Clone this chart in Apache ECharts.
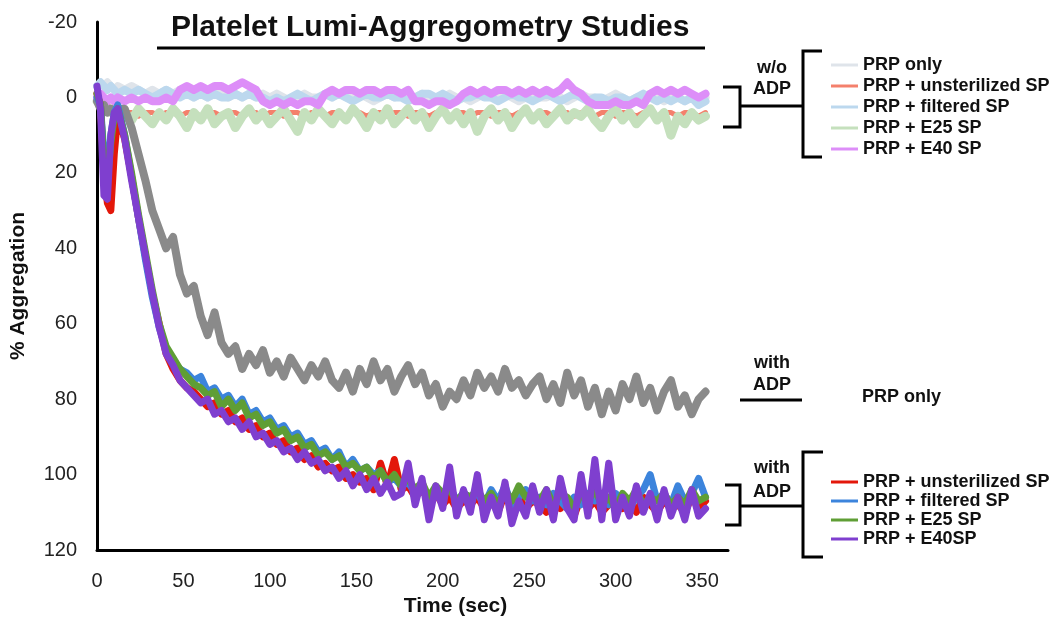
<!DOCTYPE html>
<html>
<head>
<meta charset="utf-8">
<script src="https://cdn.jsdelivr.net/npm/echarts@6/dist/echarts.min.js"></script>
<style>
  html, body { margin: 0; padding: 0; background: #fff; }
  #chart { width: 1053px; height: 626px; }
</style>
</head>
<body>
<div id="chart"></div>
<script>
  // time (sec)
  const times = [0, 2, 4, 6, 8, 10, 12,
    16, 20, 24, 28, 32, 36, 40, 44, 48, 52,
    56, 60, 64, 68, 72, 76, 80, 84, 88, 92,
    96, 100, 104, 108, 112, 116, 120, 124, 128, 132,
    136, 140, 144, 148, 152, 156, 160, 164, 168, 172,
    176, 180, 184, 188, 192, 196, 200, 204, 208, 212,
    216, 220, 224, 228, 232, 236, 240, 244, 248, 252,
    256, 260, 264, 268, 272, 276, 280, 284, 288, 292,
    296, 300, 304, 308, 312, 316, 320, 324, 328, 332,
    336, 340, 344, 348, 352];

  // w/o ADP
  const noPrp = [-3, -4, -3, -4, -3, -2, -3,
    -2, -3, -2, -1, -2, -1, -2, -1, -2, -1,
    0, -1, 0, -1, -1, 0, -1, 0, -1, 0,
    -1, 0, -1, 0, 1, 0, -1, 0, 0, -1,
    0, -1, 0, 0, -1, 0, 1, 0, -1, 0,
    -1, 0, 0, -1, 0, 1, 0, -1, 0, 0,
    1, 0, -1, 0, 0, -1, 0, 1, 0, -1,
    0, 0, -1, 0, 1, 0, -1, 0, 0, 1,
    0, -1, 0, 1, 0, 0, -1, 0, 1, 0,
    0, 1, 0, 1, 0];
  const noUnster = [0, 1, 2, 2, 3, 3, 4,
    4, 4, 5, 4, 4, 5, 4, 4, 5, 4,
    4, 5, 4, 4, 5, 4, 4, 5, 4, 4,
    5, 4, 4, 5, 4, 4, 5, 4, 4, 5,
    4, 4, 5, 4, 4, 5, 4, 4, 5, 4,
    4, 5, 4, 4, 5, 4, 4, 5, 4, 4,
    5, 4, 4, 5, 4, 4, 5, 4, 4, 5,
    4, 4, 5, 4, 4, 5, 4, 4, 5, 4,
    4, 5, 4, 4, 5, 4, 4, 5, 4, 4,
    5, 4, 4, 5, 4];
  const noFilt = [-3, -4, -3, -2, -3, -2, -1,
    -2, -1, -2, -1, 0, -1, -2, -1, 0, -1,
    0, -1, 0, -1, 0, 0, -1, 0, -1, 0,
    0, 1, 0, 1, 0, -1, 0, 1, 0, -1,
    0, -1, 0, 1, 0, -1, 0, 0, -1, 0,
    0, 1, 0, -1, -1, 0, -1, 0, 1, 0,
    0, -1, 0, 0, 1, 0, -1, 0, 0, 1,
    0, -1, 0, 1, 0, -1, 0, 1, 0, 0,
    1, 0, 0, 1, 0, -1, 0, 1, 0, 1,
    0, 1, 0, 2, 1];
  const noE25 = [1, 2, 3, 3, 4, 3, 5,
    4, 6, 3, 5, 7, 4, 6, 3, 5, 8,
    4, 6, 3, 7, 5, 4, 8, 5, 3, 6,
    4, 7, 5, 3, 6, 9, 4, 6, 3, 5,
    7, 4, 6, 3, 5, 8, 4, 6, 3, 7,
    5, 3, 6, 4, 8, 5, 3, 6, 4, 7,
    4, 9, 5, 3, 6, 4, 8, 5, 3, 6,
    4, 7, 5, 3, 6, 4, 5, 3, 6, 8,
    5, 3, 6, 4, 7, 5, 3, 6, 4, 10,
    5, 7, 4, 6, 5];
  const noE40 = [0, -1, 0, 1, 0, 1, 0,
    1, 0, 1, 0, 1, 1, 0, 1, -2, -3,
    -2, -3, -2, -3, -3, -2, -3, -4, -3, -2,
    1, 2, 1, 2, 1, 2, 1, 1, 2, -1,
    -2, -1, -2, -2, -1, -2, -2, -1, -2, -2,
    -1, -2, 1, 1, 2, 1, 1, 2, 1, -1,
    -2, -1, -2, -1, -2, -2, -1, -2, -1, -2,
    -1, -2, -1, -2, -4, -2, -1, 1, 2, 2,
    2, 1, 2, 2, 1, 2, -1, -2, -1, -2,
    -1, -2, -1, 0, -1];

  // with ADP
  const adpPrp = [1, 3, 2, 4, 3, 4, 3,
    3, 8, 15, 22, 30, 35, 40, 37, 47, 52,
    50, 58, 63, 57, 65, 68, 66, 72, 68, 71,
    67, 73, 70, 74, 69, 72, 75, 71, 74, 70,
    75, 77, 73, 78, 72, 76, 70, 75, 72, 78,
    74, 71, 76, 73, 79, 76, 82, 78, 80, 75,
    79, 73, 77, 74, 78, 72, 77, 75, 79, 76,
    74, 80, 76, 81, 73, 79, 75, 82, 77, 84,
    78, 83, 76, 80, 74, 81, 77, 83, 78, 75,
    82, 79, 84, 80, 78];
  const adpUnster = [-1, 2, 20, 28, 30, 15, 5,
    11, 21, 32, 42, 52, 60, 68, 72, 75, 77,
    78, 80, 82, 81, 84, 83, 86, 85, 88, 87,
    90, 89, 92, 91, 94, 93, 96, 95, 98, 97,
    99, 98, 101, 100, 102, 101, 104, 97, 103, 96,
    104, 103, 106, 104, 107, 105, 108, 106, 109, 107,
    108, 106, 109, 107, 110, 105, 108, 106, 109, 107,
    108, 110, 106, 109, 107, 111, 106, 109, 107, 110,
    108, 106, 109, 107, 110, 106, 108, 110, 107, 109,
    108, 110, 106, 109, 107];
  const adpFilt = [0, 2, 15, 20, 10, 4, 2,
    10, 21, 32, 43, 53, 61, 67, 70, 72, 73,
    75, 74, 78, 77, 80, 79, 82, 80, 84, 83,
    86, 85, 88, 87, 90, 89, 92, 91, 94, 93,
    96, 94, 98, 96, 99, 98, 100, 99, 102, 101,
    103, 102, 105, 103, 106, 104, 105, 103, 107, 105,
    106, 105, 108, 104, 107, 103, 108, 106, 104, 107,
    106, 108, 105, 107, 109, 106, 108, 105, 107, 106,
    108, 105, 107, 109, 106, 104, 100, 107, 105, 108,
    103, 107, 105, 101, 106];
  const adpE25 = [-1, 2, 18, 22, 12, 5, 3,
    10, 20, 31, 41, 51, 60, 66, 69, 72, 74,
    76, 77, 79, 78, 82, 80, 83, 81, 85, 84,
    87, 86, 89, 88, 91, 90, 93, 92, 95, 94,
    96, 95, 98, 97, 99, 98, 101, 99, 102, 100,
    103, 101, 104, 102, 106, 103, 105, 104, 107, 105,
    106, 104, 107, 105, 108, 104, 107, 103, 106, 105,
    107, 104, 108, 105, 106, 109, 105, 107, 104, 108,
    106, 109, 105, 107, 104, 108, 106, 107, 105, 108,
    106, 108, 104, 107, 106];
  const adpE40 = [-3, 3, 26, 27, 10, 4, 3,
    11, 22, 32, 42, 52, 61, 68, 71, 75, 77,
    79, 81, 80, 84, 83, 86, 85, 88, 86, 90,
    89, 92, 91, 94, 93, 96, 94, 97, 96, 99,
    98, 101, 99, 103, 100, 104, 101, 105, 102, 106,
    105, 97, 108, 101, 112, 103, 109, 98, 111, 104,
    110, 100, 112, 106, 111, 102, 113, 107, 111, 103,
    110, 104, 112, 101, 109, 112, 100, 111, 96, 112,
    97, 112, 106, 111, 103, 110, 105, 112, 104, 111,
    106, 112, 104, 111, 109];

  const yTicks = [-20, 0, 20, 40, 60, 80, 100, 120];
  const xTicks = [0, 50, 100, 150, 200, 250, 300, 350];

  const font = 'Liberation Sans, Arial, sans-serif';

  function pair(vals) {
    return times.map((t, i) => [t, vals[i]]);
  }
  function line(name, vals, color, width) {
    return {
      name: name,
      type: 'line',
      data: pair(vals),
      showSymbol: false,
      color: color,
      lineStyle: {color: color, width: width, join: 'round', cap: 'round'},
      emphasis: {disabled: true}
    };
  }

  const series = [
    line('PRP only', noPrp, '#dfe4ea', 8),
    line('PRP + unsterilized SP', noUnster, '#f4806c', 5),
    line('PRP + filtered SP', noFilt, '#bcd8ee', 8),
    line('PRP + E25 SP', noE25, '#c5e0bd', 9),
    line('PRP + E40 SP', noE40, '#dd8ef8', 8),
    line('ADP: PRP only', adpPrp, '#8a8a8a', 8),
    line('ADP: PRP + unsterilized SP', adpUnster, '#e3170a', 7),
    line('ADP: PRP + filtered SP', adpFilt, '#3c84dc', 7),
    line('ADP: PRP + E25 SP', adpE25, '#5f9e35', 7),
    line('PRP + E40SP', adpE40, '#7f3fcf', 7)
  ];

  const legendText = {fontSize: 18, fontWeight: 'bold', color: '#111', fontFamily: font, lineHeight: 18};

  function seg(points) {
    return {type: 'polyline', shape: {points: points}, style: {stroke: '#000', lineWidth: 3, fill: null}};
  }
  function label(text, x, y, align) {
    return {type: 'text', x: x, y: y, style: {text: text, font: 'bold 18px ' + font, fill: '#111', align: align || 'center', verticalAlign: 'middle'}};
  }

  const option = {
    animation: false,
    backgroundColor: '#fff',
    title: {
      text: 'Platelet Lumi-Aggregometry Studies',
      left: 166,
      top: 8,
      textStyle: {fontSize: 30, fontWeight: 'bold', color: '#111', fontFamily: font}
    },
    grid: {left: 97, top: 22, right: 325, bottom: 76},
    legend: [
      {
        data: ['PRP only', 'PRP + unsterilized SP', 'PRP + filtered SP', 'PRP + E25 SP', 'PRP + E40 SP'],
        orient: 'vertical', left: 826, top: 51, itemWidth: 27, itemHeight: 3, itemGap: 3,
        icon: 'rect', selectedMode: false, textStyle: legendText
      },
      {
        data: ['ADP: PRP + unsterilized SP', 'ADP: PRP + filtered SP', 'ADP: PRP + E25 SP', 'PRP + E40SP'],
        orient: 'vertical', left: 826, top: 468, itemWidth: 27, itemHeight: 3, itemGap: 1,
        icon: 'rect', selectedMode: false, textStyle: legendText,
        formatter: name => name.replace('ADP: ', '')
      }
    ],
    xAxis: {
      type: 'value', min: 0, max: 365, interval: 50,
      name: 'Time (sec)', nameLocation: 'middle', nameGap: 45,
      nameTextStyle: {fontSize: 21, fontWeight: 'bold', color: '#111', fontFamily: font, padding: [0, 0, 0, 86]},
      axisLine: {onZero: false, lineStyle: {color: '#000', width: 3}},
      axisTick: {show: false},
      splitLine: {show: false},
      axisLabel: {
        fontSize: 20, color: '#222', fontFamily: font, margin: 21, showMaxLabel: false,
        formatter: v => xTicks.indexOf(v) >= 0 ? String(v) : ''
      }
    },
    yAxis: {
      type: 'value', inverse: true, min: -20, max: 120, interval: 20,
      name: '% Aggregation', nameLocation: 'middle', nameGap: 68, nameRotate: 90,
      nameTextStyle: {fontSize: 21, fontWeight: 'bold', color: '#111', fontFamily: font},
      axisLine: {show: true, onZero: false, lineStyle: {color: '#000', width: 3}},
      axisTick: {show: false},
      splitLine: {show: false},
      axisLabel: {
        fontSize: 20, color: '#222', fontFamily: font, margin: 20,
        formatter: v => yTicks.indexOf(v) >= 0 ? String(v) : ''
      }
    },
    graphic: [
      seg([[157, 48], [705, 48]]),
      // w/o ADP brackets
      seg([[723, 87], [740, 87], [740, 127], [723, 127]]),
      seg([[740, 106], [803, 106]]),
      seg([[822, 51], [803, 51], [803, 157], [822, 157]]),
      label('w/o', 772, 68),
      label('ADP', 772, 89),
      // with ADP, PRP only
      label('with', 772, 363),
      label('ADP', 772, 385),
      seg([[740, 400], [802, 400]]),
      label('PRP only', 862, 397, 'left'),
      // with ADP, SP groups
      seg([[725, 485], [740, 485], [740, 525], [725, 525]]),
      seg([[740, 506], [803, 506]]),
      seg([[823, 452], [803, 452], [803, 557], [823, 557]]),
      label('with', 772, 468),
      label('ADP', 772, 492)
    ],
    series: series
  };

  const chart = echarts.init(document.getElementById('chart'));
  chart.setOption(option);
</script>
</body>
</html>
